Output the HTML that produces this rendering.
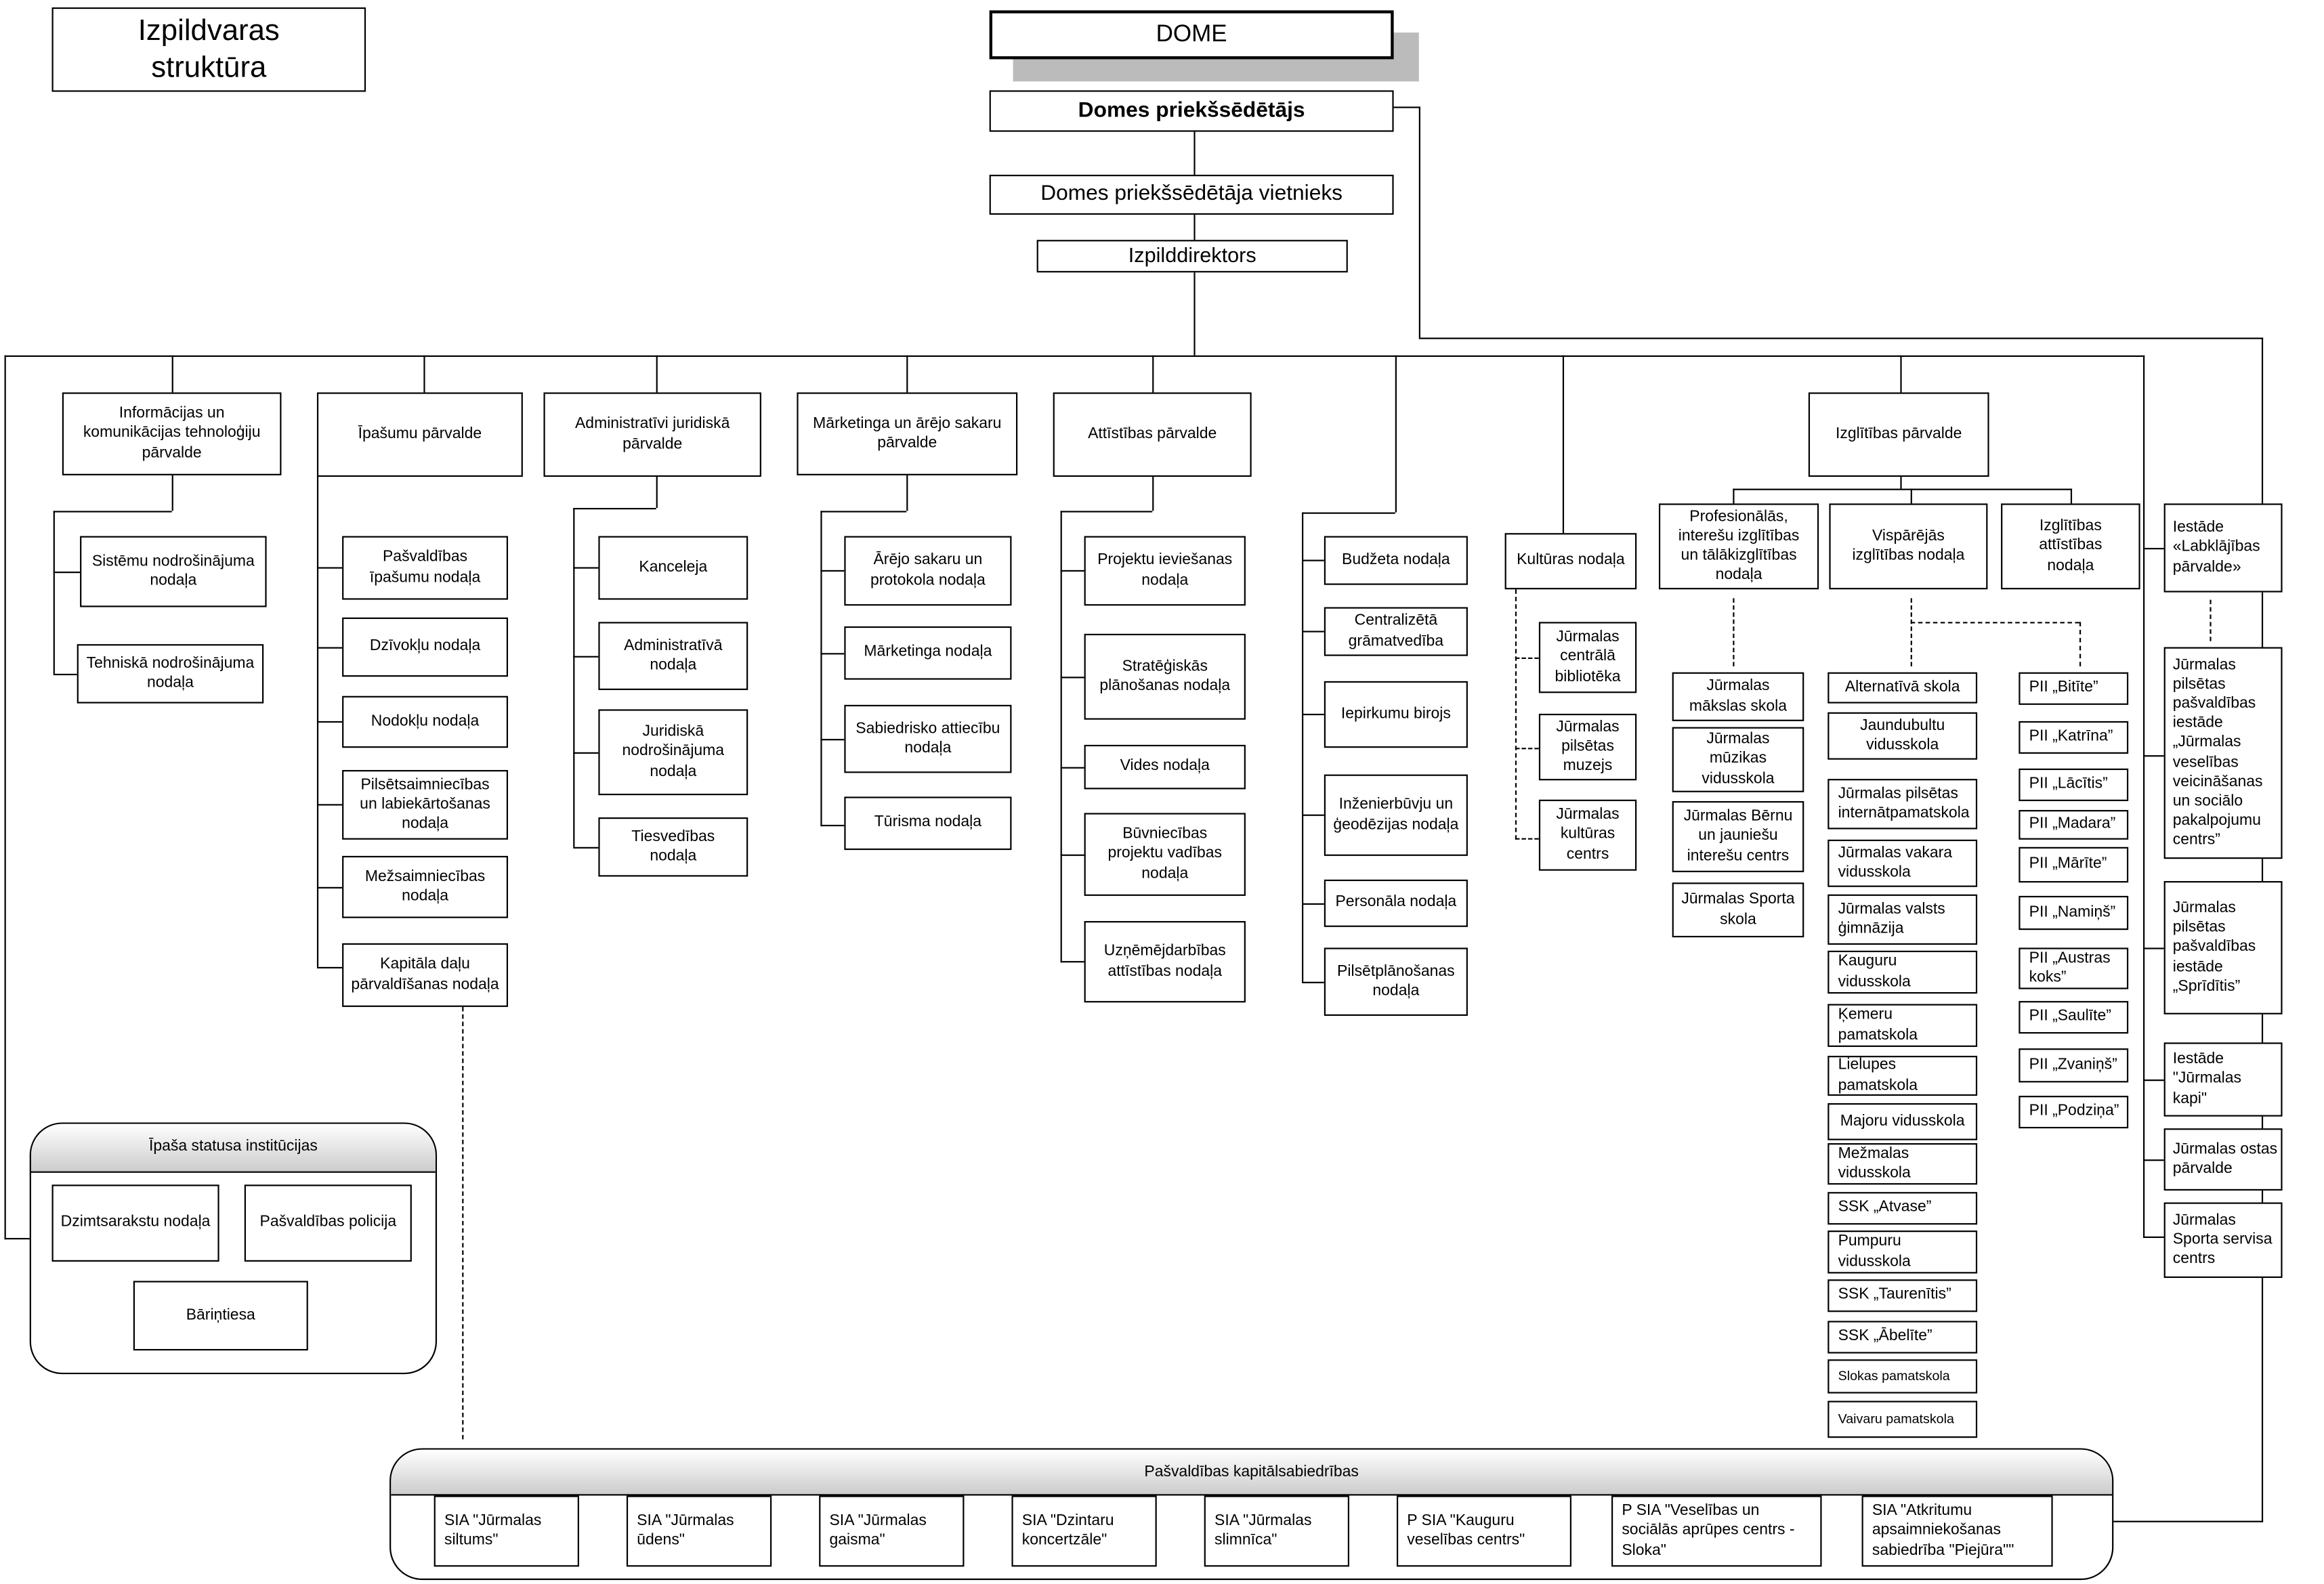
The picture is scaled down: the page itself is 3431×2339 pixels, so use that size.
<!DOCTYPE html>
<html><head><meta charset="utf-8"><style>
html,body{margin:0;padding:0;background:#fff;}
body{width:3431px;height:2339px;overflow:hidden;position:relative;}
#c{position:absolute;left:0;top:0;width:1552px;height:1058px;transform:scale(2.1866);transform-origin:0 0;font-family:"Liberation Sans",sans-serif;color:#000;}
.b{position:absolute;border:1px solid #000;background:#fff;box-sizing:border-box;display:flex;align-items:center;justify-content:center;text-align:center;font-size:10.5px;line-height:1.25;padding:0 5px;}
.l{justify-content:flex-start;text-align:left;padding-left:6px;padding-right:2px;}
.h{position:absolute;background:#000;height:1px;}
.v{position:absolute;background:#000;width:1px;}
.dv{position:absolute;width:0;border-left:1px dashed #000;}
.dh{position:absolute;height:0;border-top:1px dashed #000;}
.r{position:absolute;border:1.5px solid #000;border-radius:22px;box-sizing:border-box;overflow:hidden;}
.rh{position:absolute;left:0;right:0;top:0;background:linear-gradient(#fff,#ccc);border-bottom:1px solid #000;font-size:10.5px;text-align:center;}
</style></head><body><div id="c">
<div class="b" style="left:35px;top:5px;width:212px;height:57px;font-size:20px;line-height:1.25">Izpildvaras<br>struktūra</div>
<div style="position:absolute;left:684px;top:22px;width:274px;height:33px;background:#bbb"></div>
<div class="b" style="left:668px;top:7px;width:273px;height:33px;border:2.5px solid #000;font-size:16px">DOME</div>
<div class="b" style="left:668px;top:61px;width:273px;height:28px;font-size:14.5px;font-weight:bold">Domes priekšsēdētājs</div>
<div class="v" style="left:806px;top:89px;height:29px"></div>
<div class="b" style="left:668px;top:118px;width:273px;height:27px;font-size:14.5px">Domes priekšsēdētāja vietnieks</div>
<div class="b" style="left:700px;top:162px;width:210px;height:22px;font-size:14px">Izpilddirektors</div>
<div class="v" style="left:806px;top:145px;height:17px"></div>
<div class="v" style="left:806px;top:184px;height:56px"></div>
<div class="h" style="left:941px;top:72px;width:18px"></div>
<div class="v" style="left:958px;top:72px;height:156px"></div>
<div class="h" style="left:958px;top:228px;width:570px"></div>
<div class="v" style="left:1527px;top:228px;height:800px"></div>
<div class="h" style="left:1427px;top:1027px;width:101px"></div>
<div class="h" style="left:3px;top:240px;width:1445px"></div>
<div class="v" style="left:3px;top:240px;height:597px"></div>
<div class="h" style="left:3px;top:836px;width:17px"></div>
<div class="v" style="left:116px;top:240px;height:25px"></div>
<div class="v" style="left:286px;top:240px;height:25px"></div>
<div class="v" style="left:443px;top:240px;height:25px"></div>
<div class="v" style="left:612px;top:240px;height:25px"></div>
<div class="v" style="left:778px;top:240px;height:25px"></div>
<div class="v" style="left:942px;top:240px;height:106px"></div>
<div class="v" style="left:1055px;top:240px;height:120px"></div>
<div class="v" style="left:1283px;top:240px;height:25px"></div>
<div class="v" style="left:1447px;top:240px;height:596px"></div>

<div class="b" style="left:42px;top:265px;width:148px;height:56px">Informācijas un komunikācijas tehnoloģiju pārvalde</div>
<div class="b" style="left:214px;top:265px;width:139px;height:57px">Īpašumu pārvalde</div>
<div class="b" style="left:367px;top:265px;width:147px;height:57px">Administratīvi juridiskā pārvalde</div>
<div class="b" style="left:538px;top:265px;width:149px;height:56px">Mārketinga un ārējo sakaru pārvalde</div>
<div class="b" style="left:711px;top:265px;width:134px;height:57px">Attīstības pārvalde</div>
<div class="b" style="left:1221px;top:265px;width:122px;height:57px">Izglītības pārvalde</div>

<div class="v" style="left:36px;top:345px;height:110px"></div>
<div class="h" style="left:36px;top:345px;width:80px"></div>
<div class="v" style="left:116px;top:321px;height:24px"></div>
<div class="h" style="left:36px;top:386px;width:18px"></div>
<div class="h" style="left:36px;top:455px;width:16px"></div>
<div class="b" style="left:54px;top:362px;width:126px;height:48px">Sistēmu nodrošinājuma nodaļa</div>
<div class="b" style="left:52px;top:435px;width:126px;height:40px">Tehniskā nodrošinājuma nodaļa</div>

<div class="v" style="left:214px;top:322px;height:331px"></div>
<div class="h" style="left:214px;top:383px;width:17px"></div>
<div class="h" style="left:214px;top:437px;width:17px"></div>
<div class="h" style="left:214px;top:487px;width:17px"></div>
<div class="h" style="left:214px;top:543px;width:17px"></div>
<div class="h" style="left:214px;top:599px;width:17px"></div>
<div class="h" style="left:214px;top:653px;width:17px"></div>
<div class="b" style="left:231px;top:362px;width:112px;height:43px">Pašvaldības īpašumu nodaļa</div>
<div class="b" style="left:231px;top:417px;width:112px;height:40px">Dzīvokļu nodaļa</div>
<div class="b" style="left:231px;top:470px;width:112px;height:35px">Nodokļu nodaļa</div>
<div class="b" style="left:231px;top:520px;width:112px;height:47px">Pilsētsaimniecības un labiekārtošanas nodaļa</div>
<div class="b" style="left:231px;top:578px;width:112px;height:42px">Mežsaimniecības nodaļa</div>
<div class="b" style="left:231px;top:637px;width:112px;height:43px">Kapitāla daļu pārvaldīšanas nodaļa</div>
<div class="dv" style="left:312px;top:680px;height:292px"></div>

<div class="v" style="left:387px;top:343px;height:229px"></div>
<div class="h" style="left:387px;top:343px;width:56px"></div>
<div class="v" style="left:443px;top:322px;height:21px"></div>
<div class="h" style="left:387px;top:383px;width:17px"></div>
<div class="h" style="left:387px;top:443px;width:17px"></div>
<div class="h" style="left:387px;top:508px;width:17px"></div>
<div class="h" style="left:387px;top:572px;width:17px"></div>
<div class="b" style="left:404px;top:362px;width:101px;height:43px">Kanceleja</div>
<div class="b" style="left:404px;top:420px;width:101px;height:46px">Administratīvā nodaļa</div>
<div class="b" style="left:404px;top:479px;width:101px;height:58px">Juridiskā nodrošinājuma nodaļa</div>
<div class="b" style="left:404px;top:552px;width:101px;height:40px">Tiesvedības nodaļa</div>

<div class="v" style="left:554px;top:345px;height:213px"></div>
<div class="h" style="left:554px;top:345px;width:58px"></div>
<div class="v" style="left:612px;top:321px;height:24px"></div>
<div class="h" style="left:554px;top:385px;width:16px"></div>
<div class="h" style="left:554px;top:441px;width:16px"></div>
<div class="h" style="left:554px;top:499px;width:16px"></div>
<div class="h" style="left:554px;top:557px;width:16px"></div>
<div class="b" style="left:570px;top:362px;width:113px;height:47px">Ārējo sakaru un protokola nodaļa</div>
<div class="b" style="left:570px;top:423px;width:113px;height:36px">Mārketinga nodaļa</div>
<div class="b" style="left:570px;top:476px;width:113px;height:46px">Sabiedrisko attiecību nodaļa</div>
<div class="b" style="left:570px;top:538px;width:113px;height:36px">Tūrisma nodaļa</div>

<div class="v" style="left:716px;top:345px;height:305px"></div>
<div class="h" style="left:716px;top:345px;width:62px"></div>
<div class="v" style="left:778px;top:322px;height:23px"></div>
<div class="h" style="left:716px;top:385px;width:16px"></div>
<div class="h" style="left:716px;top:457px;width:16px"></div>
<div class="h" style="left:716px;top:518px;width:16px"></div>
<div class="h" style="left:716px;top:577px;width:16px"></div>
<div class="h" style="left:716px;top:649px;width:16px"></div>
<div class="b" style="left:732px;top:362px;width:109px;height:47px">Projektu ieviešanas nodaļa</div>
<div class="b" style="left:732px;top:428px;width:109px;height:58px">Stratēģiskās plānošanas nodaļa</div>
<div class="b" style="left:732px;top:503px;width:109px;height:30px">Vides nodaļa</div>
<div class="b" style="left:732px;top:549px;width:109px;height:56px">Būvniecības projektu vadības nodaļa</div>
<div class="b" style="left:732px;top:622px;width:109px;height:55px">Uzņēmējdarbības attīstības nodaļa</div>

<div class="v" style="left:879px;top:346px;height:317px"></div>
<div class="h" style="left:879px;top:346px;width:63px"></div>
<div class="h" style="left:879px;top:378px;width:15px"></div>
<div class="h" style="left:879px;top:426px;width:15px"></div>
<div class="h" style="left:879px;top:482px;width:15px"></div>
<div class="h" style="left:879px;top:550px;width:15px"></div>
<div class="h" style="left:879px;top:610px;width:15px"></div>
<div class="h" style="left:879px;top:663px;width:15px"></div>
<div class="b" style="left:894px;top:362px;width:97px;height:33px">Budžeta nodaļa</div>
<div class="b" style="left:894px;top:410px;width:97px;height:33px">Centralizētā grāmatvedība</div>
<div class="b" style="left:894px;top:460px;width:97px;height:45px">Iepirkumu birojs</div>
<div class="b" style="left:894px;top:523px;width:97px;height:55px">Inženierbūvju un ģeodēzijas nodaļa</div>
<div class="b" style="left:894px;top:594px;width:97px;height:32px">Personāla nodaļa</div>
<div class="b" style="left:894px;top:640px;width:97px;height:46px">Pilsētplānošanas nodaļa</div>

<div class="b" style="left:1016px;top:360px;width:89px;height:38px;padding:0 2px">Kultūras nodaļa</div>
<div class="dv" style="left:1023px;top:398px;height:169px"></div>
<div class="dh" style="left:1023px;top:444px;width:16px"></div>
<div class="dh" style="left:1023px;top:505px;width:16px"></div>
<div class="dh" style="left:1023px;top:566px;width:16px"></div>
<div class="b" style="left:1039px;top:420px;width:66px;height:48px">Jūrmalas centrālā bibliotēka</div>
<div class="b" style="left:1039px;top:482px;width:66px;height:45px">Jūrmalas pilsētas muzejs</div>
<div class="b" style="left:1039px;top:540px;width:66px;height:48px">Jūrmalas kultūras centrs</div>

<div class="v" style="left:1283px;top:322px;height:8px"></div>
<div class="h" style="left:1170px;top:330px;width:229px"></div>
<div class="v" style="left:1170px;top:330px;height:10px"></div>
<div class="v" style="left:1290px;top:330px;height:10px"></div>
<div class="v" style="left:1398px;top:330px;height:10px"></div>
<div class="b" style="left:1120px;top:340px;width:108px;height:58px;padding:0 8px">Profesionālās, interešu izglītības un tālākizglītības nodaļa</div>
<div class="b" style="left:1235px;top:340px;width:107px;height:58px;padding:0 10px">Vispārējās izglītības nodaļa</div>
<div class="b" style="left:1351px;top:340px;width:94px;height:58px;padding:0 14px">Izglītības attīstības nodaļa</div>
<div class="dv" style="left:1170px;top:404px;height:46px"></div>
<div class="b" style="left:1129px;top:454px;width:89px;height:33px">Jūrmalas mākslas skola</div>
<div class="b" style="left:1129px;top:491px;width:89px;height:44px">Jūrmalas mūzikas vidusskola</div>
<div class="b" style="left:1129px;top:541px;width:89px;height:48px">Jūrmalas Bērnu un jauniešu interešu centrs</div>
<div class="b" style="left:1129px;top:596px;width:89px;height:37px">Jūrmalas Sporta skola</div>
<div class="dv" style="left:1290px;top:404px;height:46px"></div>
<div class="dh" style="left:1290px;top:420px;width:114px"></div>
<div class="dv" style="left:1404px;top:420px;height:30px"></div>
<div class="b" style="left:1234px;top:454px;width:101px;height:21px">Alternatīvā skola</div>
<div class="b" style="left:1234px;top:481px;width:101px;height:32px">Jaundubultu vidusskola</div>
<div class="b l" style="left:1234px;top:526px;width:101px;height:34px">Jūrmalas pilsētas internātpamatskola</div>
<div class="b l" style="left:1234px;top:567px;width:101px;height:32px">Jūrmalas vakara vidusskola</div>
<div class="b l" style="left:1234px;top:604px;width:101px;height:34px">Jūrmalas valsts ģimnāzija</div>
<div class="b l" style="left:1234px;top:642px;width:101px;height:29px">Kauguru vidusskola</div>
<div class="b l" style="left:1234px;top:678px;width:101px;height:29px">Ķemeru pamatskola</div>
<div class="b l" style="left:1234px;top:713px;width:101px;height:27px">Lielupes pamatskola</div>
<div class="b" style="left:1234px;top:745px;width:101px;height:25px">Majoru vidusskola</div>
<div class="b l" style="left:1234px;top:772px;width:101px;height:28px">Mežmalas vidusskola</div>
<div class="b l" style="left:1234px;top:805px;width:101px;height:22px">SSK „Atvase”</div>
<div class="b l" style="left:1234px;top:831px;width:101px;height:29px">Pumpuru vidusskola</div>
<div class="b l" style="left:1234px;top:864px;width:101px;height:22px">SSK „Taurenītis”</div>
<div class="b l" style="left:1234px;top:892px;width:101px;height:22px">SSK „Ābelīte”</div>
<div class="b l" style="left:1234px;top:918px;width:101px;height:23px;font-size:9px">Slokas pamatskola</div>
<div class="b l" style="left:1234px;top:946px;width:101px;height:25px;font-size:9px">Vaivaru pamatskola</div>
<div class="b l" style="left:1363px;top:454px;width:74px;height:22px">PII „Bitīte”</div>
<div class="b l" style="left:1363px;top:487px;width:74px;height:22px">PII „Katrīna”</div>
<div class="b l" style="left:1363px;top:519px;width:74px;height:22px">PII „Lācītis”</div>
<div class="b l" style="left:1363px;top:547px;width:74px;height:20px">PII „Madara”</div>
<div class="b l" style="left:1363px;top:572px;width:74px;height:24px">PII „Mārīte”</div>
<div class="b l" style="left:1363px;top:605px;width:74px;height:23px">PII „Namiņš”</div>
<div class="b l" style="left:1363px;top:640px;width:74px;height:28px">PII „Austras koks”</div>
<div class="b l" style="left:1363px;top:676px;width:74px;height:22px">PII „Saulīte”</div>
<div class="b l" style="left:1363px;top:708px;width:74px;height:23px">PII „Zvaniņš”</div>
<div class="b l" style="left:1363px;top:740px;width:74px;height:22px">PII „Podziņa”</div>

<div class="h" style="left:1447px;top:370px;width:14px"></div>
<div class="h" style="left:1447px;top:510px;width:14px"></div>
<div class="h" style="left:1447px;top:640px;width:14px"></div>
<div class="h" style="left:1447px;top:729px;width:14px"></div>
<div class="h" style="left:1447px;top:783px;width:14px"></div>
<div class="h" style="left:1447px;top:835px;width:14px"></div>
<div class="b l" style="left:1461px;top:340px;width:80px;height:60px;padding-left:5px">Iestāde «Labklājības pārvalde»</div>
<div class="dv" style="left:1492px;top:405px;height:28px"></div>
<div class="b l" style="left:1461px;top:437px;width:80px;height:143px;padding-left:5px">Jūrmalas pilsētas pašvaldības iestāde „Jūrmalas veselības veicināšanas un sociālo pakalpojumu centrs”</div>
<div class="b l" style="left:1461px;top:595px;width:80px;height:90px;padding-left:5px">Jūrmalas pilsētas pašvaldības iestāde „Sprīdītis”</div>
<div class="b l" style="left:1461px;top:704px;width:80px;height:50px;padding-left:5px">Iestāde "Jūrmalas kapi"</div>
<div class="b l" style="left:1461px;top:762px;width:80px;height:42px;padding-left:5px">Jūrmalas ostas pārvalde</div>
<div class="b l" style="left:1461px;top:812px;width:80px;height:51px;padding-left:5px">Jūrmalas Sporta servisa centrs</div>

<div class="r" style="left:20px;top:758px;width:275px;height:170px"><div class="rh" style="height:32px;line-height:30px">Īpaša statusa institūcijas</div></div>
<div class="b" style="left:35px;top:800px;width:113px;height:52px">Dzimtsarakstu nodaļa</div>
<div class="b" style="left:165px;top:800px;width:113px;height:52px">Pašvaldības policija</div>
<div class="b" style="left:90px;top:865px;width:118px;height:47px">Bāriņtiesa</div>

<div class="r" style="left:263px;top:978px;width:1164px;height:89px"><div class="rh" style="height:30px;line-height:30px">Pašvaldības kapitālsabiedrības</div></div>
<div class="b l" style="left:293px;top:1010px;width:98px;height:48px">SIA "Jūrmalas siltums"</div>
<div class="b l" style="left:423px;top:1010px;width:98px;height:48px">SIA "Jūrmalas ūdens"</div>
<div class="b l" style="left:553px;top:1010px;width:98px;height:48px">SIA "Jūrmalas gaisma"</div>
<div class="b l" style="left:683px;top:1010px;width:98px;height:48px">SIA "Dzintaru koncertzāle"</div>
<div class="b l" style="left:813px;top:1010px;width:98px;height:48px">SIA "Jūrmalas slimnīca"</div>
<div class="b l" style="left:943px;top:1010px;width:118px;height:48px">P SIA "Kauguru veselības centrs"</div>
<div class="b l" style="left:1088px;top:1010px;width:142px;height:48px">P SIA "Veselības un sociālās aprūpes centrs - Sloka"</div>
<div class="b l" style="left:1257px;top:1010px;width:129px;height:48px">SIA "Atkritumu apsaimniekošanas sabiedrība "Piejūra""</div>
</div></body></html>
